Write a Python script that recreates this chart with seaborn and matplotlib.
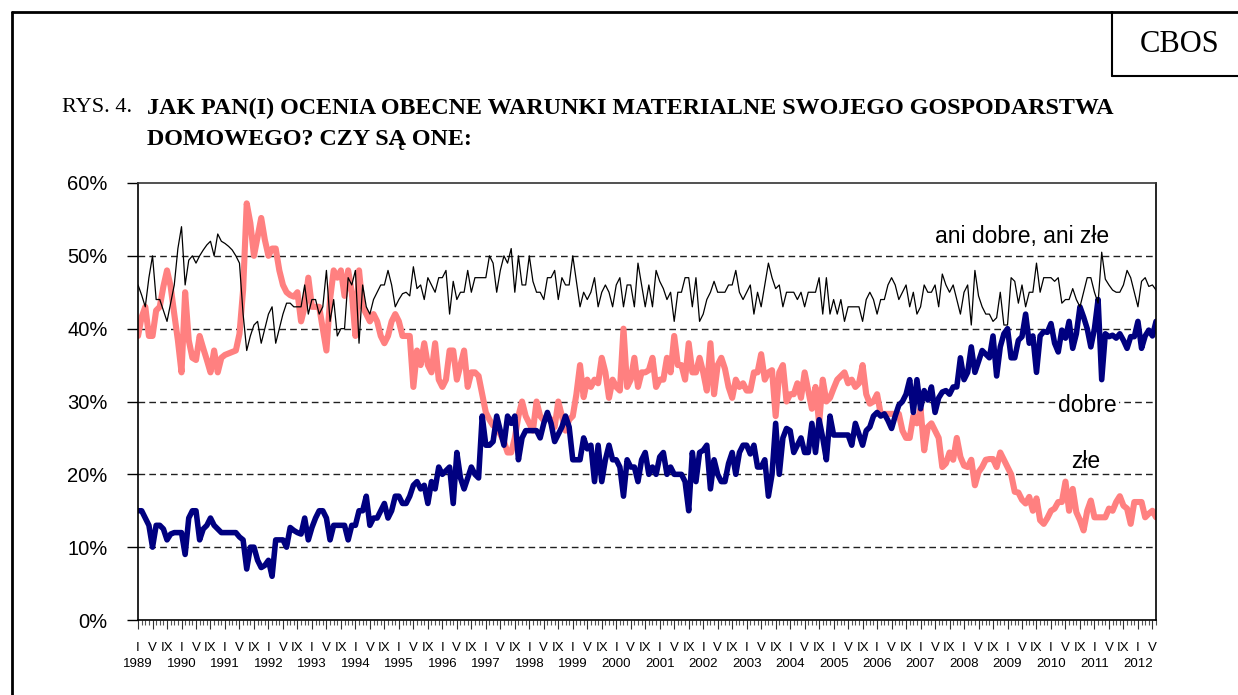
import matplotlib
matplotlib.use("Agg")
import matplotlib.pyplot as plt
from matplotlib.lines import Line2D
from matplotlib.ticker import FixedLocator, MultipleLocator
import numpy as np
import pandas as pd
import seaborn as sns

# monthly survey results, I 1989 - VI 2012 (percent)
zle = [39, 41.6, 43, 39, 39, 42.5, 43, 45.8, 48, 45.8, 42, 38.4, 34, 45, 38.4, 36, 35.7, 39, 37.3, 35.7,
       34, 37, 34, 36, 36.4, 36.6, 36.8, 37, 39.3, 45.3, 57.2, 54.5, 50, 52.6, 55.2, 52.2, 50,
       51, 51, 48, 46, 45, 44.6, 44.4, 45, 41, 43, 47, 43, 43, 43, 40, 37, 44, 48, 47, 48,
       44.5, 48, 45, 39, 48, 43, 42, 41, 42, 41, 39, 38, 39, 41, 42, 41,
       39, 39, 39, 32, 37, 35, 38, 35, 34, 38, 33, 32, 33, 37, 37, 33, 35, 37, 32, 34,
       34, 33.5, 31, 28.5, 27.5, 26.7, 26.7, 25.5, 24.5, 23, 23, 25, 28, 30, 28, 27,
       26, 30, 28, 27.4, 28, 27.5, 26.5, 30, 28, 26, 27.5, 28, 31, 35, 30.6, 33, 32, 33, 32.5, 36,
       34, 30.5, 33, 32, 31.5, 40, 32, 33, 36, 32, 34, 34, 34.3, 36, 32, 33,
       33, 36, 34, 39, 35, 35, 33, 38, 34, 34, 36, 34, 31.5, 38, 31, 35, 36, 34.5, 32, 30.5,
       33, 32, 32.5, 31.5, 31.5, 34, 34, 36.5, 33, 34, 34.3, 28, 34, 35, 30, 31,
       31, 32.5, 30.5, 34, 31.5, 29, 32, 27, 33, 30, 30.5, 31.8, 33, 33.5, 34, 32.5, 33, 32, 32.5, 35,
       31, 29.7, 30, 31, 28.3, 28.3, 28.3, 28.3, 28.3, 28.3, 26, 25, 25, 28, 27,
       29, 23.3, 26.5, 27, 26, 25, 21, 21.5, 23, 22, 25, 22.4, 21.2, 21, 22, 18.5, 20.3, 21, 22, 22.1,
       22.1, 21, 23, 22, 21, 20, 17.6, 17.5, 16.5, 16, 16.9, 15, 16.7, 13.7, 13.2, 14,
       15, 15.3, 16.2, 16.2, 19, 15, 18, 14.8, 13.7, 12.3, 15, 16.4, 14.1, 14.1, 14.1, 14.1, 15.3, 15, 16.2, 17,
       15.7, 15.3, 13.2, 16.2, 16.2, 16.2, 14.1, 14.6, 15, 14.1]

dobre = [15, 15, 14, 13, 10, 13, 13, 12.5, 11, 11.8, 12, 12, 12, 9, 14, 15, 15, 11, 12.5, 13,
         14, 13, 12.5, 12, 12, 12, 12, 12, 11.4, 11, 7, 10, 10, 8.2, 7.2, 7.5, 8.2,
         6, 11, 11, 11, 10, 12.7, 12.3, 12, 11.8, 14, 11, 12.7, 14, 15, 15, 14, 11, 13, 13, 13,
         13, 11, 13, 13, 15, 15, 17, 13, 14, 14, 15, 16, 14, 15, 17, 17,
         16, 16, 17, 18.5, 19, 18, 18.5, 16, 19, 18, 21, 20, 20.5, 21, 16, 23, 19.5, 18, 19.5, 21,
         20, 19.5, 28, 24, 24, 24.5, 28, 26, 24, 28, 27, 28, 22, 25, 26, 26,
         26, 26, 25, 27, 28.5, 27, 24.5, 25.5, 26.5, 28, 26.5, 22, 22, 22, 25, 23.5, 24, 19, 24, 19,
         22, 24, 22, 22, 21, 17, 22, 21, 21, 19, 22, 23, 20, 21, 20, 22.4,
         23, 20, 21, 20, 20, 20, 19, 15, 23, 19, 23, 23.3, 24, 18, 22, 20, 19, 19, 21.5, 23,
         20, 23, 24, 24, 22.8, 24, 21, 21, 22, 17, 20, 27, 20, 25, 26.3, 26,
         23, 24, 25, 23, 23, 27, 23, 27.5, 25, 22, 28, 25.4, 25.4, 25.4, 25.4, 25.4, 24, 27, 25.5, 24,
         26, 26.5, 28, 28.5, 28, 28.3, 27.4, 26.3, 28, 29.5, 30, 31, 33, 28.5, 33,
         29, 31.5, 30.2, 32, 28.5, 30.5, 31.3, 31.5, 31, 32, 32, 36, 33, 34, 37.5, 34, 35.5, 37, 36.5, 36,
         39, 33.5, 37.5, 39.3, 40, 36, 36, 38.4, 38.9, 42, 38, 39, 34, 39, 39.6, 39.5,
         40.7, 38, 36.8, 39.8, 38.7, 41, 37.3, 39.3, 43, 41.6, 40, 37.5, 40, 44, 33, 39.3, 38.9, 39.1, 38.7, 39.3,
         38.4, 37.3, 38.9, 38.9, 41, 37.3, 39, 39.8, 39, 41]

ani = [46, 44.6, 43, 47, 50, 44, 44, 42.5, 41, 43.5, 46, 51, 54, 46, 49.4, 50, 49, 50, 50.8, 51.5,
       52, 50, 53, 52, 51.7, 51.3, 50.8, 50, 49, 42, 37, 39, 40.5, 41, 38, 40, 42,
       43, 38, 40, 42, 43.5, 43.5, 43, 43, 43, 46, 42, 44, 44, 42, 43, 48, 41, 44, 39, 40,
       40, 47, 46, 48, 38, 46, 43, 42, 44, 45, 46, 46, 48, 46, 43, 44,
       44.8, 45, 44.5, 48.5, 45.5, 46, 44, 47, 46, 45, 47, 47, 48, 42, 46.5, 44, 45, 45, 48, 45,
       47, 47, 47, 47, 50, 49, 45, 48, 50, 49, 51, 45, 50, 46, 46, 50,
       46.5, 45, 45, 44, 47, 47, 48, 44, 47, 46, 46, 50, 46.5, 43, 45, 44, 45, 47, 43, 45,
       46, 45, 43, 46, 47, 43, 46, 46, 43, 49, 46, 43, 46, 43, 48, 46.5,
       45.5, 44, 45, 41, 45, 45, 47, 47, 43, 47, 41, 42, 44, 45, 46.5, 45, 45, 45, 46, 46,
       48, 45, 44, 45, 46, 42, 45, 43, 46, 49, 47, 45.5, 46, 43, 45, 45,
       45, 44, 45, 43, 45, 45, 45, 47, 42, 47, 42, 44, 42, 44, 41, 43, 43, 43, 43, 41,
       44, 45, 44, 42, 44, 44, 46, 47, 46, 44, 45, 46, 43, 45, 42,
       43, 46, 45, 45, 46, 43, 47.5, 46, 45, 46, 44, 42, 45, 46, 40.5, 48, 44.5, 43, 42, 42,
       41, 41.5, 45, 40.5, 40.5, 47, 46.5, 43.5, 46, 43, 45, 45, 49, 45, 47, 47,
       47, 46.5, 47, 43.5, 44, 44, 45.5, 44, 43, 45, 47, 47, 45, 43.5, 50.5, 46.8, 46, 45.3, 45, 45,
       46, 48, 47, 45, 43, 46.5, 47, 45.8, 46, 45.3]

months = ["I", "V", "IX"]
years = list(range(1989, 2013))

df = pd.DataFrame({"m": np.arange(len(zle)), "zle": zle, "dobre": dobre, "ani": ani})

sns.set_theme(style="white")
plt.rcParams["font.family"] = ["Liberation Sans", "DejaVu Sans"]
plt.rcParams["text.color"] = "black"
plt.rcParams["xtick.color"] = "black"
plt.rcParams["ytick.color"] = "black"

fig = plt.figure(figsize=(12.38, 6.95), dpi=100)
ax = fig.add_axes([0.1115, 0.1079, 0.8223, 0.6288])

sns.lineplot(data=df, x="m", y="zle", ax=ax, color="#FF8080", linewidth=4.4,
             solid_joinstyle="round")
sns.lineplot(data=df, x="m", y="dobre", ax=ax, color="#000080", linewidth=4.0,
             solid_joinstyle="round")
sns.lineplot(data=df, x="m", y="ani", ax=ax, color="black", linewidth=0.9)

ax.set_xlim(0, len(zle) - 1)
ax.set_ylim(0, 60)
ax.set_xlabel("")
ax.set_ylabel("")

# y axis
ax.set_yticks(range(0, 61, 10))
ax.set_yticklabels([f"{v}%" for v in range(0, 61, 10)], fontsize=14.5)
for v in range(10, 60, 10):
    ax.axhline(v, color="#202020", linewidth=1, dashes=(4.8, 3), zorder=0.5)

# x axis: I / V / IX under the ticks, years in a second row
pos = list(range(0, len(zle), 4))
ax.xaxis.set_major_locator(FixedLocator(pos))
ax.set_xticklabels([months[(p % 12) // 4] for p in pos], fontsize=9.5)
ax.xaxis.set_minor_locator(MultipleLocator(1))
ax.tick_params(axis="x", which="major", direction="out", length=6.5, width=0.8,
               color="#333333", pad=9.5, bottom=True)
ax.tick_params(axis="x", which="minor", direction="out", length=3.5, width=0.8,
               color="#555555", bottom=True)
ax.tick_params(axis="y", which="major", direction="out", length=8, width=1,
               color="black", pad=14, left=True)
for i, yr in enumerate(years):
    ax.text(12 * i, -0.1, str(yr), transform=ax.get_xaxis_transform(),
            fontsize=9.5, ha="center", va="center")

for s in ax.spines.values():
    s.set_visible(True)
    s.set_color("black")
    s.set_linewidth(1.2)
ax.spines["top"].set_color("#333333")

# series labels
ax.text(244, 52.7, "ani dobre, ani złe", fontsize=16.5, ha="center", va="center")
ax.text(262, 29.5, "dobre", fontsize=16.5, ha="center", va="center",
        bbox=dict(facecolor="white", edgecolor="none", pad=1.5))
ax.text(261.7, 21.8, "złe", fontsize=16.5, ha="center", va="center")

# page frame and CBOS box
W, H = 1238, 695
def fl(x0, y0, x1, y1, lw=2):
    fig.add_artist(Line2D([x0 / W, x1 / W], [1 - y0 / H, 1 - y1 / H],
                          color="black", linewidth=lw, transform=fig.transFigure))
fl(12, 12, 1238, 12)
fl(12, 12, 12, 695)
fl(1112, 12, 1112, 76, 1.5)
fl(1112, 76, 1238, 76, 1.5)
fig.text(1180 / W, 1 - 45 / H, "CBOS", fontsize=22, family="Liberation Serif",
         ha="center", va="center")

# title
fig.text(62 / W, 1 - 108 / H, "RYS. 4.", fontsize=16, family="Liberation Serif",
         ha="left", va="center")
fig.text(147 / W, 1 - 108 / H, "JAK PAN(I) OCENIA OBECNE WARUNKI MATERIALNE SWOJEGO GOSPODARSTWA",
         fontsize=17.3, family="Liberation Serif", weight="bold", ha="left", va="center")
fig.text(147 / W, 1 - 140 / H, "DOMOWEGO? CZY SĄ ONE:",
         fontsize=17.3, family="Liberation Serif", weight="bold", ha="left", va="center")

fig.savefig("out.png", dpi=100, facecolor="white")
